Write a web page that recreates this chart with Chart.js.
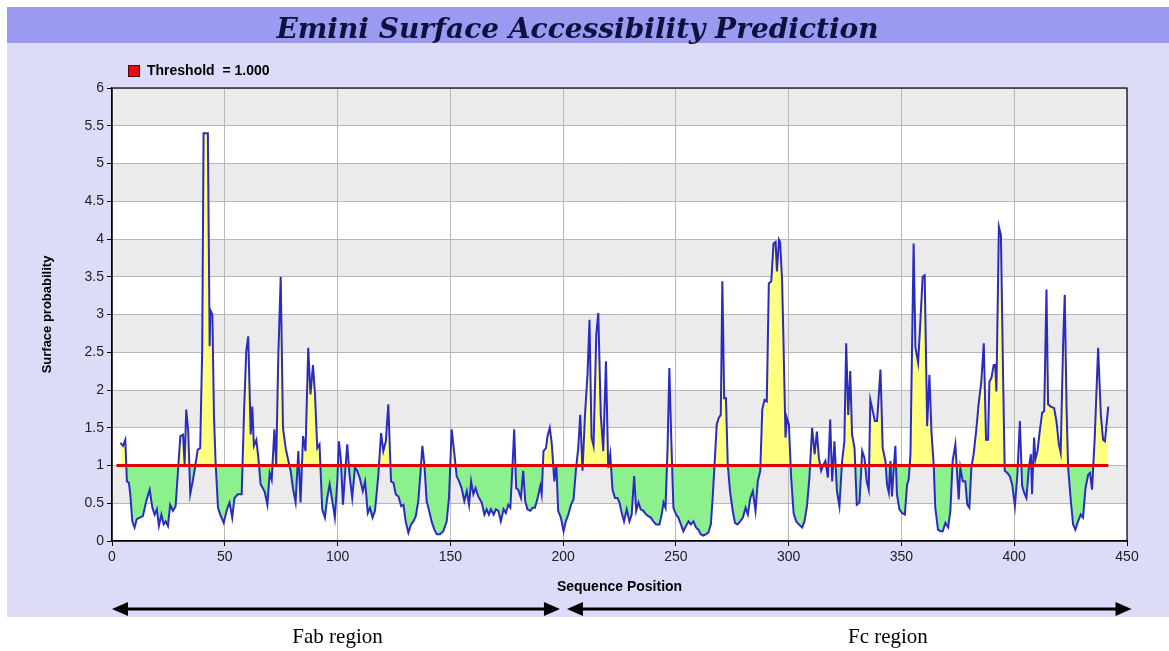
<!DOCTYPE html>
<html>
<head>
<meta charset="utf-8">
<title>Emini Surface Accessibility Prediction</title>
<script src="https://cdn.jsdelivr.net/npm/chart.js@4.4.1/dist/chart.umd.min.js"></script>
<style>
  html, body { margin: 0; padding: 0; background: #ffffff; }
  #wrap { position: relative; width: 1169px; height: 651px; overflow: hidden; }
  #panel { position: absolute; left: 7px; top: 7px; width: 1162px; height: 610px; background: #dcdcf9; }
  #bar { position: absolute; left: 7px; top: 7px; width: 1162px; height: 36px; background: #9a9af0; }
  #chart { position: absolute; left: 0; top: 0; }
</style>
</head>
<body>
<div id="wrap">
  <div id="panel"></div>
  <div id="bar"></div>
  <canvas id="chart" width="1169" height="651"></canvas>
</div>
<script>
// Sequence positions and Emini surface probability
const positions = [
  3.7, 4.9, 5.9, 6.6, 7.5, 8.1, 9.0, 10.0, 11.0, 12.3, 13.7, 15.2, 16.7, 17.9, 18.9, 19.9, 20.8, 21.9, 22.9, 23.8,
  24.8, 25.8, 27.0, 28.2, 29.2, 30.3, 31.5, 32.2, 32.9, 33.8, 34.7, 35.9, 37.0, 38.0, 39.1, 40.0, 40.6, 42.5, 43.3, 43.6,
  44.5, 45.2, 45.9, 47.0, 48.0, 49.5, 51.0, 52.1, 53.3, 54.3, 55.8, 57.5, 58.5, 59.5, 60.4, 61.5, 62.2, 62.9, 64.0, 64.9,
  65.9, 66.9, 67.8, 68.9, 69.9, 70.8, 72.0, 72.8, 73.7, 74.8, 75.8, 77.0, 78.2, 79.2, 80.2, 81.4, 82.6, 83.6, 84.7, 85.8,
  87.0, 88.0, 89.1, 90.0, 91.0, 92.0, 93.2, 94.4, 95.4, 96.5, 97.7, 98.8, 99.9, 100.6, 101.4, 102.4, 103.3, 104.3, 105.3, 106.5,
  107.7, 108.7, 109.8, 111.2, 112.2, 113.4, 114.4, 115.5, 116.6, 118.1, 119.3, 120.3, 121.4, 122.5, 123.7, 124.8, 125.8, 127.0, 128.2, 129.2,
  130.2, 131.4, 132.6, 133.6, 134.7, 135.8, 136.7, 137.6, 138.5, 139.5, 140.6, 141.7, 142.9, 144.0, 145.4, 146.9, 148.4, 149.4, 150.6, 151.8,
  152.8, 153.9, 155.0, 156.2, 157.3, 158.3, 159.2, 160.2, 161.2, 162.4, 163.9, 165.1, 166.1, 167.1, 168.0, 169.2, 170.2, 171.3, 172.4, 173.6,
  174.6, 175.7, 176.6, 177.6, 178.3, 179.2, 180.1, 181.3, 182.3, 183.2, 184.2, 185.4, 186.5, 187.5, 188.7, 189.9, 190.5, 191.3, 192.4, 193.1,
  194.1, 195.0, 196.1, 197.0, 197.8, 199.0, 200.2, 201.2, 202.3, 203.5, 204.6, 205.7, 206.7, 207.6, 208.6, 209.7, 210.8, 211.7, 212.6, 213.5,
  214.7, 215.6, 216.7, 217.8, 219.0, 220.0, 220.9, 221.9, 223.0, 224.1, 225.0, 226.0, 227.0, 228.2, 229.4, 230.4, 231.5, 232.4, 233.4, 234.4,
  235.6, 236.8, 237.8, 238.9, 240.0, 241.2, 242.7, 243.7, 244.5, 245.4, 246.3, 247.1, 247.9, 248.9, 250.1, 251.1, 252.2, 253.3, 254.5, 255.6,
  256.6, 257.8, 258.9, 260.0, 261.0, 262.2, 263.4, 264.4, 265.5, 266.3, 267.4, 268.1, 269.0, 269.9, 270.6, 271.4, 272.2, 273.0, 274.0, 275.2,
  276.2, 277.3, 278.5, 279.7, 280.9, 281.9, 283.0, 284.1, 285.3, 286.3, 287.4, 288.3, 289.3, 290.3, 291.2, 292.3, 293.3, 294.2, 294.8, 295.7,
  296.2, 297.1, 297.7, 298.6, 299.2, 300.1, 301.1, 302.2, 303.3, 304.5, 306.0, 307.0, 308.1, 309.2, 310.4, 311.5, 312.5, 313.4, 314.4, 315.4,
  316.3, 317.4, 318.4, 319.3, 320.3, 321.4, 322.5, 323.7, 324.7, 325.5, 326.4, 327.3, 328.1, 329.2, 330.2, 331.4, 332.6, 333.6, 334.6, 335.5,
  336.2, 337.3, 338.2, 339.2, 340.7, 341.7, 342.9, 343.6, 344.4, 345.1, 345.8, 346.6, 347.3, 348.0, 349.1, 350.3, 351.5, 352.5, 353.2, 354.0,
  354.7, 355.4, 356.2, 357.4, 358.4, 359.4, 360.3, 361.4, 362.4, 363.3, 364.3, 365.0, 366.2, 367.3, 368.3, 369.5, 370.7, 371.7, 372.7, 373.9,
  374.6, 375.4, 376.1, 377.2, 378.3, 379.2, 380.1, 381.0, 382.0, 383.1, 384.2, 385.4, 386.5, 387.5, 388.4, 389.0, 389.9, 390.9, 391.6, 392.1,
  393.2, 394.1, 395.1, 395.8, 397.0, 398.0, 399.1, 400.3, 401.4, 402.5, 403.5, 404.4, 405.4, 406.5, 407.4, 407.9, 408.8, 409.4, 410.3, 411.3,
  412.4, 413.3, 414.3, 415.0, 416.2, 417.7, 418.7, 419.8, 420.6, 421.7, 422.4, 423.2, 423.9, 425.1, 426.1, 427.1, 428.3, 429.5, 430.5, 431.6,
  432.8, 433.6, 434.5, 435.7, 437.2, 438.4, 439.4, 440.2, 441.7
];
const values = [
  1.30, 1.26, 1.34, 0.79, 0.77, 0.62, 0.26, 0.18, 0.29, 0.31, 0.33, 0.53, 0.68, 0.44, 0.35, 0.42, 0.20, 0.35, 0.22, 0.26,
  0.20, 0.48, 0.40, 0.46, 0.90, 1.39, 1.41, 1.01, 1.74, 1.45, 0.62, 0.81, 1.01, 1.21, 1.23, 2.55, 5.40, 5.40, 2.58, 3.06,
  3.00, 1.67, 1.06, 0.44, 0.35, 0.24, 0.42, 0.51, 0.31, 0.57, 0.62, 0.62, 1.67, 2.51, 2.71, 1.41, 1.78, 1.26, 1.34, 1.10,
  0.75, 0.70, 0.64, 0.48, 0.90, 0.81, 1.48, 1.01, 2.42, 3.50, 1.50, 1.23, 1.06, 0.93, 0.70, 0.51, 1.19, 0.51, 1.39, 1.19,
  2.56, 1.94, 2.33, 1.94, 1.23, 1.28, 0.42, 0.31, 0.57, 0.75, 0.53, 0.31, 0.79, 1.32, 1.10, 0.48, 0.88, 1.28, 0.88, 0.57,
  0.97, 0.93, 0.84, 0.66, 0.79, 0.37, 0.44, 0.31, 0.40, 0.88, 1.43, 1.19, 1.32, 1.81, 0.79, 0.77, 0.62, 0.59, 0.46, 0.48,
  0.26, 0.11, 0.22, 0.26, 0.33, 0.53, 0.88, 1.26, 1.01, 0.53, 0.40, 0.26, 0.15, 0.09, 0.09, 0.13, 0.26, 0.57, 1.48, 1.15,
  0.86, 0.79, 0.70, 0.53, 0.66, 0.48, 0.79, 0.62, 0.70, 0.59, 0.51, 0.35, 0.42, 0.35, 0.42, 0.35, 0.42, 0.40, 0.26, 0.42,
  0.37, 0.48, 0.44, 1.01, 1.48, 0.70, 0.68, 0.57, 0.93, 0.53, 0.42, 0.40, 0.44, 0.44, 0.57, 0.73, 0.62, 1.19, 1.23, 1.39,
  1.50, 1.28, 0.79, 1.01, 0.40, 0.31, 0.13, 0.26, 0.35, 0.48, 0.55, 0.95, 1.23, 1.67, 0.93, 1.67, 2.20, 2.93, 1.37, 1.26,
  2.73, 3.02, 1.67, 1.19, 2.38, 0.97, 1.15, 0.68, 0.57, 0.57, 0.51, 0.37, 0.26, 0.42, 0.26, 0.35, 0.86, 0.40, 0.51, 0.42,
  0.40, 0.35, 0.33, 0.31, 0.26, 0.22, 0.22, 0.35, 0.51, 0.44, 1.23, 2.29, 1.41, 0.44, 0.35, 0.31, 0.22, 0.13, 0.20, 0.26,
  0.22, 0.26, 0.18, 0.15, 0.09, 0.07, 0.09, 0.11, 0.22, 0.57, 1.15, 1.54, 1.63, 1.67, 3.44, 1.89, 1.89, 1.01, 0.66, 0.40,
  0.24, 0.22, 0.26, 0.31, 0.44, 0.35, 0.57, 0.66, 0.40, 0.79, 0.93, 1.74, 1.87, 1.85, 3.41, 3.44, 3.94, 3.96, 3.57, 3.99,
  3.96, 3.44, 2.64, 1.37, 1.63, 1.54, 0.84, 0.37, 0.26, 0.22, 0.18, 0.26, 0.46, 0.84, 1.50, 1.15, 1.45, 1.10, 0.93, 1.01,
  1.06, 0.84, 1.61, 0.79, 1.32, 0.66, 0.46, 1.06, 1.32, 2.62, 1.67, 2.25, 1.41, 1.23, 0.48, 0.51, 1.19, 1.10, 0.79, 0.68,
  1.87, 1.72, 1.59, 1.59, 2.27, 1.23, 1.06, 0.75, 0.64, 1.06, 0.59, 0.97, 1.26, 0.62, 0.42, 0.37, 0.35, 0.75, 0.81, 1.15,
  2.56, 3.94, 2.56, 2.36, 2.91, 3.50, 3.52, 1.52, 2.20, 1.45, 1.01, 0.44, 0.15, 0.13, 0.13, 0.24, 0.18, 0.40, 1.06, 1.28,
  0.93, 0.55, 0.97, 0.79, 0.79, 0.48, 0.44, 0.97, 1.15, 1.45, 1.81, 2.11, 2.62, 1.34, 1.34, 2.11, 2.16, 2.33, 2.33, 1.98,
  4.16, 4.05, 2.11, 0.93, 0.90, 0.86, 0.75, 0.46, 0.88, 1.59, 0.73, 0.64, 0.57, 0.97, 1.15, 0.62, 1.37, 1.08, 1.19, 1.45,
  1.70, 1.72, 3.33, 1.81, 1.78, 1.76, 1.59, 1.28, 1.17, 2.64, 3.26, 1.76, 0.97, 0.53, 0.22, 0.15, 0.26, 0.35, 0.31, 0.70,
  0.88, 0.90, 0.68, 1.37, 2.56, 1.67, 1.34, 1.32, 1.78
];

const threshold = 1.0;
const thresholdSpan = [2, 441.7];
const thresholdLabel = 'Threshold  = 1.000';

// Annotated antibody regions below the axis (sequence positions)
const regions = [
  { label: 'Fab region', start: 0, end: 198.6, textAt: 100 },
  { label: 'Fc region', start: 201.7, end: 452, textAt: 344 }
];

const points = positions.map((p, i) => ({ x: p, y: values[i] }));
const thresholdPoints = thresholdSpan.map(p => ({ x: p, y: threshold }));

// small red square used as the legend marker (offset a little to the right)
const legendMark = document.createElement('canvas');
legendMark.width = 18;
legendMark.height = 12;
(function () {
  const c = legendMark.getContext('2d');
  c.fillStyle = '#e01010';
  c.fillRect(6, 0, 12, 12);
  c.strokeStyle = '#5a0000';
  c.lineWidth = 1;
  c.strokeRect(6.5, 0.5, 11, 11);
})();

// alternating grey / white bands behind the plot
const bandsPlugin = {
  id: 'bands',
  beforeDraw(chart) {
    const { ctx, chartArea: a, scales: { y } } = chart;
    ctx.save();
    ctx.fillStyle = '#ffffff';
    ctx.fillRect(a.left, a.top, a.right - a.left, a.bottom - a.top);
    ctx.fillStyle = '#ebebeb';
    for (let v = 0.5; v < 6; v += 1) {
      const top = y.getPixelForValue(v + 0.5);
      const bot = y.getPixelForValue(v);
      ctx.fillRect(a.left, top, a.right - a.left, bot - top);
    }
    ctx.restore();
  },
  afterDraw(chart) {
    const { ctx, chartArea: a } = chart;
    ctx.save();
    ctx.strokeStyle = '#000000';
    ctx.lineWidth = 1.2;
    ctx.strokeRect(a.left, a.top, a.right - a.left, a.bottom - a.top);
    ctx.restore();
  }
};

// double headed arrows with the region names
const regionPlugin = {
  id: 'regions',
  afterDraw(chart) {
    const { ctx, chartArea: a, scales: { x } } = chart;
    const yLine = a.bottom + 68;
    const yText = a.bottom + 96;
    ctx.save();
    ctx.strokeStyle = '#000000';
    ctx.fillStyle = '#000000';
    ctx.lineWidth = 3;
    regions.forEach(r => {
      const x1 = x.getPixelForValue(r.start);
      const x2 = x.getPixelForValue(r.end);
      const head = 16;
      ctx.beginPath();
      ctx.moveTo(x1 + head - 2, yLine);
      ctx.lineTo(x2 - head + 2, yLine);
      ctx.stroke();
      ctx.beginPath();
      ctx.moveTo(x1, yLine);
      ctx.lineTo(x1 + head, yLine - 7);
      ctx.lineTo(x1 + head, yLine + 7);
      ctx.closePath();
      ctx.fill();
      ctx.beginPath();
      ctx.moveTo(x2, yLine);
      ctx.lineTo(x2 - head, yLine - 7);
      ctx.lineTo(x2 - head, yLine + 7);
      ctx.closePath();
      ctx.fill();
      ctx.font = '21px "Liberation Serif", "Times New Roman", serif';
      ctx.textAlign = 'center';
      ctx.textBaseline = 'middle';
      ctx.fillText(r.label, x.getPixelForValue(r.textAt), yText);
    });
    ctx.restore();
  }
};

const ctx = document.getElementById('chart').getContext('2d');
new Chart(ctx, {
  type: 'line',
  data: {
    datasets: [
      {
        label: 'Surface probability',
        data: points,
        borderColor: '#2b2bc4',
        borderWidth: 2,
        pointRadius: 0,
        tension: 0,
        order: 1,
        fill: { target: { value: threshold }, above: '#ffff80', below: '#8cf08c' }
      },
      {
        label: thresholdLabel,
        data: thresholdPoints,
        borderColor: '#e00000',
        backgroundColor: '#e01010',
        borderWidth: 3,
        pointRadius: 0,
        order: 0,
        fill: false
      }
    ]
  },
  options: {
    responsive: false,
    animation: false,
    layout: { padding: { left: 28, right: 42, top: 0, bottom: 50 } },
    plugins: {
      title: {
        display: true,
        text: 'Emini Surface Accessibility Prediction',
        color: '#101040',
        font: { family: '"DejaVu Serif", "Liberation Serif", serif', size: 28, style: 'italic', weight: 'bold' },
        padding: { top: 14, bottom: 6.4 }
      },
      legend: {
        display: true,
        position: 'top',
        align: 'start',
        fullSize: false,
        labels: {
          usePointStyle: true,
          pointStyleWidth: 18,
          boxHeight: 12,
          padding: 10,
          color: '#000000',
          font: { family: '"Liberation Sans", Arial, sans-serif', size: 14, weight: 'bold' },
          generateLabels: () => [{
            text: thresholdLabel,
            pointStyle: legendMark,
            fillStyle: '#e01010',
            strokeStyle: '#5a0000',
            lineWidth: 0,
            datasetIndex: 1
          }]
        }
      },
      tooltip: { enabled: false }
    },
    scales: {
      x: {
        type: 'linear',
        min: 0,
        max: 450,
        ticks: {
          stepSize: 50,
          padding: 3,
          color: '#222222',
          font: { family: '"Liberation Sans", Arial, sans-serif', size: 14 }
        },
        grid: { color: '#b8b8b8', tickColor: '#000000', tickLength: 5 },
        border: { color: '#000000', width: 1.2 },
        title: {
          display: true,
          text: 'Sequence Position',
          color: '#000000',
          font: { family: '"Liberation Sans", Arial, sans-serif', size: 14, weight: 'bold' },
          padding: { top: 0, bottom: 5 }
        },
        afterFit(scale) { scale.height = 60; }
      },
      y: {
        min: 0,
        max: 6,
        ticks: {
          stepSize: 0.5,
          padding: 3,
          color: '#222222',
          font: { family: '"Liberation Sans", Arial, sans-serif', size: 14 },
          callback: v => String(Math.round(v * 10) / 10)
        },
        grid: { color: '#b8b8b8', tickColor: '#000000', tickLength: 5 },
        border: { color: '#000000', width: 1.2 },
        title: {
          display: true,
          text: 'Surface probability',
          color: '#000000',
          font: { family: '"Liberation Sans", Arial, sans-serif', size: 13, weight: 'bold' },
          padding: { top: 12, bottom: 0 }
        },
        afterFit(scale) { scale.width = 84; }
      }
    }
  },
  plugins: [bandsPlugin, regionPlugin]
});
</script>
</body>
</html>
